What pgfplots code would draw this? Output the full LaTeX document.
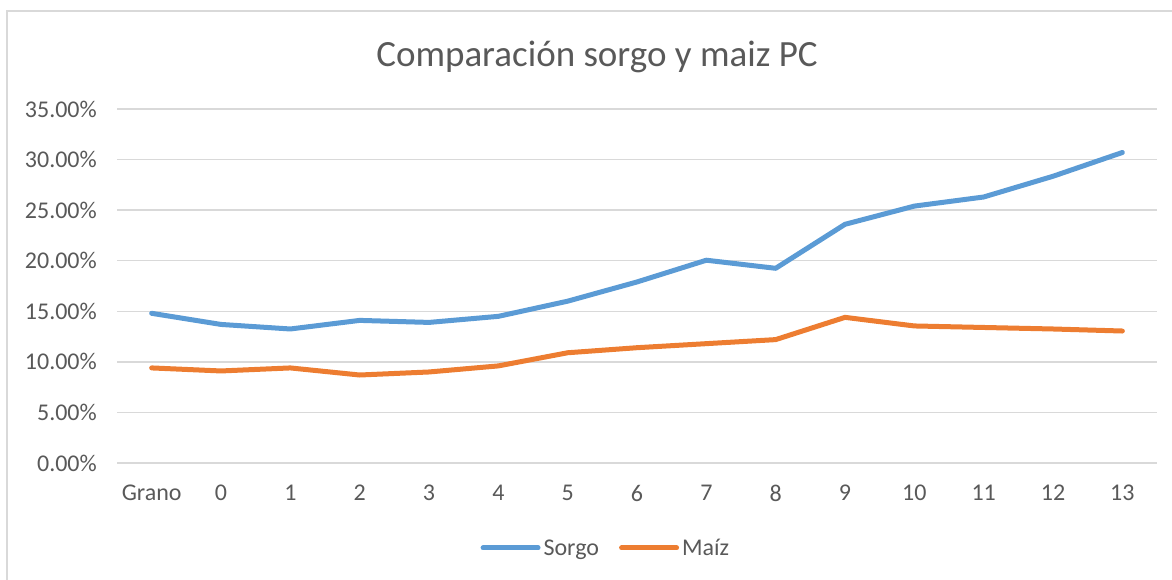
\documentclass[border=0pt]{standalone}
\usepackage{pgfplots}
\pgfplotsset{compat=1.18}
\usepackage{fontspec}
\setmainfont{Carlito}
\definecolor{sblue}{HTML}{5B9BD5}
\definecolor{sorange}{HTML}{ED7D31}
\definecolor{gridc}{HTML}{D9D9D9}
\definecolor{txt}{HTML}{595959}
\begin{document}
\begin{tikzpicture}[x=1pt,y=1pt]
\useasboundingbox (0,0) rectangle (1172,-580);
\draw[gridc, line width=1.3pt] (7,-580) -- (7,-11) -- (1172,-11);
\node[txt, font=\fontsize{37}{44}\selectfont] at (597,-57) {Comparación sorgo y maiz PC};
\begin{axis}[
  at={(117pt,-463pt)}, anchor=south west,
  scale only axis, width=1040pt, height=354pt,
  xmin=-0.5, xmax=14.5, ymin=0, ymax=35,
  xtick={0,...,14},
  xticklabels={Grano,0,1,2,3,4,5,6,7,8,9,10,11,12,13},
  ytick={0,5,10,15,20,25,30,35},
  yticklabels={0.00\%,5.00\%,10.00\%,15.00\%,20.00\%,25.00\%,30.00\%,35.00\%},
  axis line style={draw=none},
  major tick length=0pt,
  ymajorgrids,
  grid style={gridc, line width=1.3pt},
  tick label style={txt, font=\fontsize{24}{28}\selectfont, inner sep=0pt},
  yticklabel style={anchor=east, xshift=-20pt},
  xticklabel style={anchor=center, yshift=-30pt},
  legend style={at={(0.4705,-0.24)}, anchor=center, draw=none, fill=none,
    font=\fontsize{24}{28}\selectfont, text=txt, inner sep=0pt,
    /tikz/every even column/.append style={column sep=17pt},
    nodes={inner xsep=3pt}},
  legend columns=2,
  legend image code/.code={\draw[#1, line cap=round] (0pt,0pt) -- (55pt,0pt);},
  clip=false,
]
\addplot[sblue, line width=5pt, line join=round, line cap=round] coordinates {
(0,14.8) (1,13.7) (2,13.25) (3,14.1) (4,13.9) (5,14.5) (6,16.0) (7,17.9)
(8,20.05) (9,19.25) (10,23.6) (11,25.4) (12,26.3) (13,28.35) (14,30.7)};
\addlegendentry{Sorgo}
\addplot[sorange, line width=5pt, line join=round, line cap=round] coordinates {
(0,9.4) (1,9.1) (2,9.4) (3,8.7) (4,9.0) (5,9.6) (6,10.9) (7,11.4)
(8,11.8) (9,12.2) (10,14.4) (11,13.55) (12,13.4) (13,13.25) (14,13.05)};
\addlegendentry{Maíz}
\end{axis}
\end{tikzpicture}
\end{document}
